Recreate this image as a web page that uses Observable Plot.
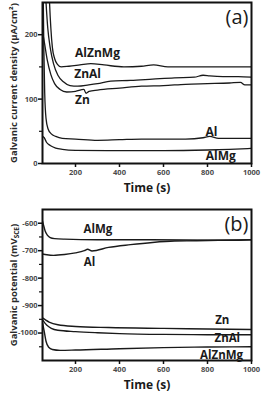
<!DOCTYPE html>
<html>
<head>
<meta charset="utf-8">
<script src="https://cdn.jsdelivr.net/npm/d3@7"></script>
<script src="https://cdn.jsdelivr.net/npm/@observablehq/plot@0.6"></script>
<style>
  html, body { margin: 0; padding: 0; background: #fff; }
  #chart { width: 261px; }
  svg { display: block; }
</style>
</head>
<body>
<div id="chart"></div>
<script>
// ---------- data ----------
const timeTicks = [200, 400, 600, 800, 1000];
const currentTicks = [0, 100, 200];
const currentMinorTicks = [50, 150];
const potentialTicks = [-600, -700, -800, -900, -1000];
const potentialMinorTicks = [-650, -750, -850, -950, -1050];

// panel (a): galvanic current density (uA/cm2) vs time (s)  [t, value]
const aAlZnMg = [[75,320],[82,250],[88,210],[95,180],[105,163],[118,154],[135,150],[170,151],[220,153],[270,155],[330,153],[420,150],[500,151],[555,153],[620,150],[700,150],[800,150],[900,150],[1000,150]];
const aZnAl = [[58,300],[66,250],[74,210],[85,180],[100,155],[120,137],[145,127],[175,121],[210,120],[260,122],[300,124],[360,128],[450,129],[550,131],[650,133],[740,134],[780,137],[810,136],[870,135],[940,135],[1000,134]];
const aZn = [[50,205],[60,185],[72,160],[88,138],[105,124],[130,115],[160,111],[200,112],[238,115],[248,109],[262,112],[300,114],[400,117],[500,120],[600,121],[700,123],[800,124],[900,125],[950,126],[970,122],[1000,122]];
const aAl = [[52,300],[56,180],[60,110],[66,70],[75,54],[90,46],[110,42],[140,39],[200,38],[300,36],[400,37],[500,38],[600,38],[700,38],[780,40],[810,42],[850,39],[1000,39]];
const aAlMg = [[50,42],[58,40],[68,33],[85,28],[110,24],[140,22],[200,20.5],[400,20],[600,20],[800,21],[900,22],[1000,23.5]];

// panel (b): galvanic potential (mV SCE) vs time (s)
const bAlMg = [[50,-592],[55,-608],[62,-628],[72,-643],[85,-652],[105,-656],[150,-658],[300,-660],[500,-660],[700,-661],[900,-662],[1000,-660]];
const bAl = [[50,-712],[70,-715],[100,-717],[150,-714],[200,-708],[240,-700],[255,-695],[275,-701],[350,-688],[450,-678],[550,-670],[650,-665],[750,-664],[850,-662],[1000,-660]];
const bZn = [[50,-945],[65,-953],[80,-960],[120,-970],[200,-976],[350,-980],[600,-983],[800,-985],[1000,-987]];
const bZnAl = [[50,-952],[70,-972],[90,-983],[120,-990],[200,-995],[300,-999],[400,-1002],[600,-1005],[800,-1006],[1000,-1006]];
const bAlZnMg = [[50,-962],[58,-995],[66,-1030],[78,-1052],[95,-1060],[130,-1063],[200,-1062],[400,-1057],[600,-1053],[800,-1051],[1000,-1050]];

// series labels placed in data units [name, t, value]
const aLabels = [["AlZnMg",300,171],["ZnAl",255,138],["Zn",232,98],["Al",818,49],["AlMg",860,11]];
const bLabels = [["AlMg",302,-622],["Al",264,-742],["Zn",867,-954],["ZnAl",890,-1021],["AlZnMg",864,-1080]];

// ---------- helpers ----------
const toRows = (name, arr) => arr.map(([t, v]) => ({series: name, t, v}));
const lblRows = arr => arr.map(([name, t, v]) => ({name, t, v}));
const FONT = "'Open Sans', 'Noto Sans', sans-serif";

function panel({rows, labels, yDomain, yTicks, yMinor, yTitle, tag, height, marginTop, marginBottom, lineWidth, labelSize}) {
  return Plot.plot({
    width: 261,
    height,
    marginTop,
    marginBottom,
    marginLeft: 42,
    marginRight: 10,
    style: {fontFamily: FONT, background: "#fff", overflow: "visible"},
    x: {domain: [50, 1000]},
    y: {domain: yDomain},
    marks: [
      Plot.line(rows, {x: "t", y: "v", z: "series", stroke: "#1a1a1a", strokeWidth: lineWidth, curve: "monotone-x", clip: true}),
      Plot.axisX({ticks: timeTicks, tickSize: 4, tickPadding: 2, tickFormat: d => String(d), fontSize: 7.5, fontWeight: "bold", fill: "#4a4a4a", stroke: "#111", strokeWidth: 1.5, label: null}),
      Plot.axisY({ticks: yTicks, tickSize: 4, tickPadding: 1, tickFormat: d => String(d), fontSize: 7.5, fontWeight: "bold", fill: "#4a4a4a", stroke: "#111", strokeWidth: 1.5, label: null}),
      Plot.axisY({ticks: yMinor, tickSize: 3, tickFormat: () => "", stroke: "#111", strokeWidth: 1.2, label: null}),
      Plot.frame({stroke: "#111", strokeWidth: 2}),
      Plot.text(lblRows(labels), {x: "t", y: "v", text: "name", fontSize: labelSize, fontWeight: "bold", fill: "#1a1a1a"}),
      Plot.text([tag], {frameAnchor: "top-right", textAnchor: "end", lineAnchor: "top", dx: -3, dy: 7, fontSize: 20, fill: "#1a1a1a"}),
      Plot.text(["Time (s)"], {frameAnchor: "bottom", textAnchor: "middle", lineAnchor: "top", dy: 20, fontSize: 12, fontWeight: "bold", fill: "#1a1a1a"}),
      Plot.text([yTitle], {frameAnchor: "left", textAnchor: "middle", lineAnchor: "middle", rotate: -90, dx: -29, fontSize: 9.5, fontWeight: "bold", fill: "#2a2a2a"})
    ]
  });
}

const rowsA = [
  ...toRows("AlZnMg", aAlZnMg), ...toRows("ZnAl", aZnAl), ...toRows("Zn", aZn),
  ...toRows("Al", aAl), ...toRows("AlMg", aAlMg)
];
const rowsB = [
  ...toRows("AlMg", bAlMg), ...toRows("Al", bAl), ...toRows("Zn", bZn),
  ...toRows("ZnAl", bZnAl), ...toRows("AlZnMg", bAlZnMg)
];

const chartA = panel({
  rows: rowsA, labels: aLabels, yDomain: [0, 250], yTicks: currentTicks, yMinor: currentMinorTicks,
  yTitle: "Galvanic current density (μA/cm²)", tag: "(a)", height: 198, marginTop: 2, marginBottom: 35, lineWidth: 1.3, labelSize: 12
});
const chartB = panel({
  rows: rowsB, labels: bLabels, yDomain: [-1100, -550], yTicks: potentialTicks, yMinor: potentialMinorTicks,
  yTitle: "Galvanic potential (mVSCE)", tag: "(b)", height: 197, marginTop: 11, marginBottom: 35, lineWidth: 1.4, labelSize: 11.5
});

// subscript "SCE" in panel (b) y title
chartB.querySelectorAll("text").forEach(t => {
  if (t.textContent === "Galvanic potential (mVSCE)") {
    const ns = "http://www.w3.org/2000/svg";
    while (t.firstChild) t.removeChild(t.firstChild);
    const a = document.createElementNS(ns, "tspan"); a.textContent = "Galvanic potential (mV";
    const s = document.createElementNS(ns, "tspan"); s.textContent = "SCE";
    s.setAttribute("font-size", "6.5"); s.setAttribute("dy", "2.5");
    const c = document.createElementNS(ns, "tspan"); c.textContent = ")"; c.setAttribute("dy", "-2.5");
    t.appendChild(a); t.appendChild(s); t.appendChild(c);
  }
});

const root = document.getElementById("chart");
root.appendChild(chartA);
root.appendChild(chartB);
</script>
</body>
</html>
